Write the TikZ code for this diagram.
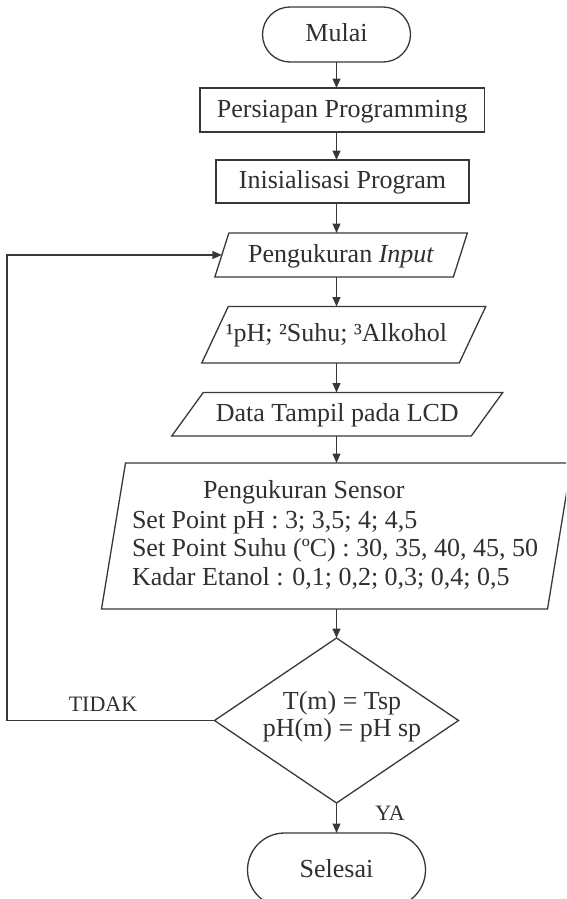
\documentclass[tikz,border=0pt]{standalone}
\usepackage{fontspec}
\setmainfont{Liberation Serif}
\usetikzlibrary{shapes.geometric,arrows.meta}
\definecolor{lncol}{HTML}{383838}
\definecolor{txcol}{HTML}{303030}
\newcommand\paradraw[2]{\draw[edge] ([xshift=-#2*0.5pt]#1.south west) -- ([xshift=-#2*0.5pt]#1.south east) -- ([xshift=#2*0.5pt]#1.north east) -- ([xshift=#2*0.5pt]#1.north west) -- cycle;}
\begin{document}
\begin{tikzpicture}[x=1pt,y=-1pt,
  every node/.style={font=\fontsize{26}{28.5}\selectfont, text=txcol, inner sep=0pt, outer sep=0pt},
  shp/.style={draw=lncol, line width=1.3pt},
  lbl/.style={text height=17pt, text depth=3pt},
  small/.style={font=\fontsize{22}{24}\selectfont},
  edge/.style={draw=lncol, line width=1.3pt},
  arr/.style={draw=lncol, line width=1.3pt, -{Triangle[length=9.5pt,width=8pt]}}
]
\useasboundingbox (0,0) rectangle (566,899);
\fill[white] (0,0) rectangle (566,899);
\clip (0,0) rectangle (566,899);

% nodes
\node[shp, lbl, rectangle, rounded corners=27.5pt, minimum width=148pt, minimum height=55pt] (mulai) at (336.5,34.5) {Mulai};
\node[shp, lbl, rectangle, minimum width=284.5pt, minimum height=44pt] (prep) at (342.25,110) {Persiapan Programming};
\node[shp, lbl, rectangle, minimum width=253pt, minimum height=43pt] (init) at (342.5,181.5) {Inisialisasi Program};
\node[lbl, rectangle, minimum width=238.5pt, minimum height=44pt] (inp) at (341.1,255) {Pengukuran \textit{Input}};
\node[rectangle, minimum width=257.5pt, minimum height=56.5pt] (ph) at (343.75,334.75) {};
\node[lbl] (phT) at (336.5,334.75) {¹pH; ²Suhu; ³Alkohol};
\node[lbl, rectangle, minimum width=299.5pt, minimum height=43.5pt] (lcd) at (337.25,414.25) {Data Tampil pada LCD};
\node[rectangle, minimum width=446pt, minimum height=146pt] (sens) at (336.5,536) {};
\node[anchor=base west] (s0) at (203,498) {Pengukuran Sensor};
\node[anchor=base west] (s1) at (132,528) {Set Point pH : 3; 3,5; 4; 4,5};
\node[anchor=base west] (s2) at (132,556.5) {Set Point Suhu (ºC) : 30, 35, 40, 45, 50};
\node[anchor=base west] (s3) at (132,585) {Kadar Etanol : 0,1; 0,2; 0,3; 0,4; 0,5};
\node[shp, diamond, minimum width=244pt, minimum height=165pt] (dec) at (336.5,720.5) {};
\node[anchor=base] (d1) at (342,709) {T(m) = Tsp};
\node[anchor=base] (d2) at (342,736) {pH(m) = pH sp};
\node[shp, lbl, rectangle, rounded corners=37pt, minimum width=178pt, minimum height=74pt] (sel) at (336.5,870) {Selesai};
\node[anchor=base, small] (tidak) at (103,711) {TIDAK};
\node[anchor=base, small] (ya) at (390,820) {YA};

% parallelograms
\paradraw{inp}{14}
\paradraw{ph}{26.5}
\paradraw{lcd}{31.5}
\paradraw{sens}{24}

% connectors
\coordinate (col) at (336.5,0);
\coordinate (fb) at (7,0);
\draw[arr] (mulai.south) -- (col |- prep.north);
\draw[arr] (col |- prep.south) -- (col |- init.north);
\draw[arr] (col |- init.south) -- (col |- inp.north);
\draw[arr] (col |- inp.south) -- (col |- ph.north);
\draw[arr] (col |- ph.south) -- (col |- lcd.north);
\draw[arr] (col |- lcd.south) -- (col |- sens.north);
\draw[arr] (col |- sens.south) -- (dec.north);
\draw[arr] (dec.south) -- (sel.north);
\draw[arr] (dec.west) -- (fb |- dec.west) |- (inp.west);
\end{tikzpicture}
\end{document}
